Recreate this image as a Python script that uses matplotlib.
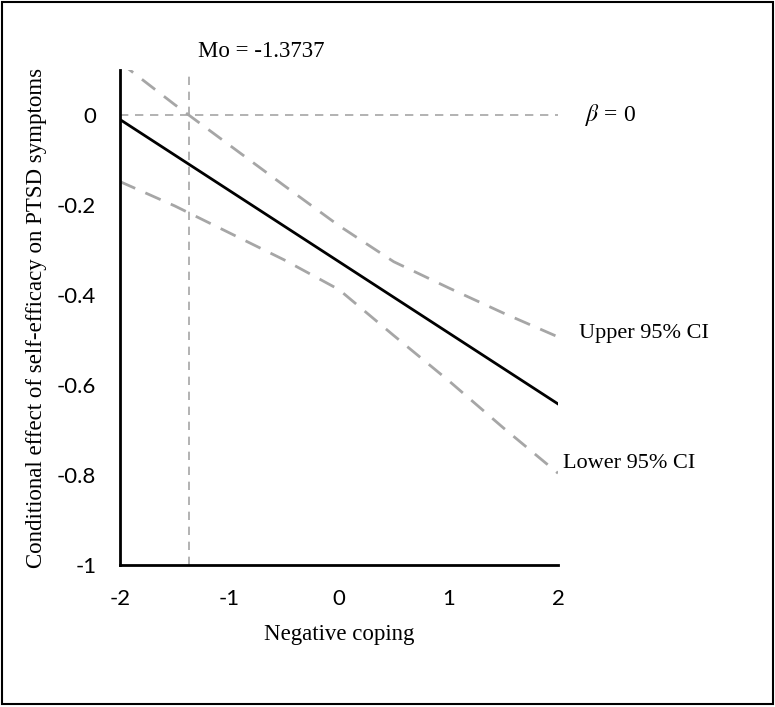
import matplotlib.pyplot as plt
from matplotlib.patches import Rectangle

plt.rcParams["mathtext.fontset"] = "stix"
plt.rcParams["axes.unicode_minus"] = False

# values
x = [-2, -1.5, -1, -0.5, 0, 0.5, 1, 1.5, 2]
effect = [-0.010, -0.089, -0.168, -0.247, -0.326, -0.405, -0.484, -0.563, -0.642]
upper = [0.117, 0.023, -0.067, -0.157, -0.246, -0.326, -0.384, -0.44, -0.493]
lower = [-0.148, -0.202, -0.262, -0.322, -0.388, -0.49, -0.59, -0.695, -0.796]
mo = -1.3737
xticks = [-2, -1, 0, 1, 2]
yticks = [0, -0.2, -0.4, -0.6, -0.8, -1]
ytick_labels = ["0", "-0.2", "-0.4", "-0.6", "-0.8", "-1"]

serif = "Liberation Serif"
sans = "Lato"

fig = plt.figure(figsize=(7.75, 7.07), dpi=100)
fig.patches.append(Rectangle((0.003, 0.004), 0.994, 0.993, transform=fig.transFigure,
                             fill=False, edgecolor="black", linewidth=1.5))
ax = fig.add_axes([0.1548, 0.2008, 0.5652, 0.7002])

grey = "#a6a6a6"
ax.plot([mo, mo], [-1, 0.1], color=grey, lw=1.2, dashes=(5, 4))
ax.plot([-2, 2], [0, 0], color=grey, lw=1.2, dashes=(5, 4))
ax.plot(x, upper, color=grey, lw=2, dashes=(6, 4))
ax.plot(x, lower, color=grey, lw=2, dashes=(6, 4))
ax.plot(x, effect, color="black", lw=2)

ax.set_xlim(-2, 2)
ax.set_ylim(-1, 0.1)
for s in ["top", "right"]:
    ax.spines[s].set_visible(False)
for s in ["left", "bottom"]:
    ax.spines[s].set_linewidth(2)
ax.set_xticks(xticks)
ax.set_yticks(yticks)
ax.set_yticklabels(ytick_labels)
ax.tick_params(length=0, labelsize=16)
ax.tick_params(axis="x", pad=17)
ax.tick_params(axis="y", pad=17)
for lab in ax.get_xticklabels() + ax.get_yticklabels():
    lab.set_family(sans)

ax.set_xlabel("Negative coping", family=serif, fontsize=16.5, labelpad=11)
ax.set_ylabel("Conditional effect of self-efficacy on PTSD symptoms", family=serif,
              fontsize=16.5, labelpad=7)

ax.text(-1.288, 0.142, "Mo = -1.3737", family=serif, fontsize=16.5, va="center")
ax.text(2.25, 0, r"$\it{\beta}$ = 0", family=serif, fontsize=17, va="center")
ax.text(2.19, -0.485, "Upper 95% CI", family=serif, fontsize=16, va="center")
ax.text(2.05, -0.774, "Lower 95% CI", family=serif, fontsize=16, va="center")
for t in ax.texts:
    t.set_clip_on(False)

fig.savefig("out.png", dpi=100)
